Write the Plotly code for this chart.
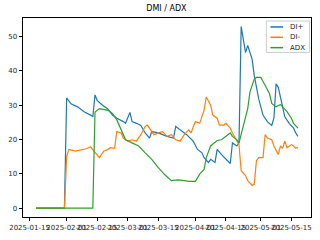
import plotly.graph_objects as go

title = "DMI / ADX"

di_plus_dates = ["2025-01-18", "2025-01-31", "2025-02-01", "2025-02-03", "2025-02-06", "2025-02-09",
                 "2025-02-12", "2025-02-13", "2025-02-14", "2025-02-15", "2025-02-17", "2025-02-20",
                 "2025-02-22", "2025-02-24", "2025-02-27", "2025-02-28", "2025-03-02", "2025-03-03",
                 "2025-03-05", "2025-03-07", "2025-03-09", "2025-03-11", "2025-03-12", "2025-03-15",
                 "2025-03-17", "2025-03-19", "2025-03-22", "2025-03-23", "2025-03-25", "2025-03-28",
                 "2025-03-31", "2025-04-02", "2025-04-04", "2025-04-05", "2025-04-07", "2025-04-08",
                 "2025-04-10", "2025-04-11", "2025-04-13", "2025-04-15", "2025-04-17", "2025-04-18",
                 "2025-04-20", "2025-04-21", "2025-04-22", "2025-04-24", "2025-04-25", "2025-04-27",
                 "2025-04-28", "2025-04-30", "2025-05-02", "2025-05-04", "2025-05-06", "2025-05-07",
                 "2025-05-08", "2025-05-09", "2025-05-11", "2025-05-12", "2025-05-14", "2025-05-16",
                 "2025-05-17", "2025-05-18"]
di_plus = [0, 0, 32.1, 30.4, 29.5, 28.1,
           27.1, 26.6, 33.0, 31.4, 30.2, 28.8,
           27.1, 26.2, 25.2, 24.7, 27.9, 25.2,
           24.7, 24.1, 21.9, 20.4, 22.3, 21.9,
           21.4, 20.9, 20.4, 23.8, 22.8, 21.4,
           19.5, 17.1, 16.1, 14.7, 13.3, 14.2,
           13.3, 17.1, 15.6, 14.2, 13.0, 19.0,
           18.1, 19.0, 52.9, 45.3, 47.4, 43.4,
           38.6, 31.9, 27.1, 25.2, 24.1, 26.2,
           36.2, 35.2, 30.0, 26.6, 24.7, 23.3,
           21.9, 20.9]

di_minus_dates = ["2025-01-18", "2025-01-31", "2025-02-01", "2025-02-02", "2025-02-05", "2025-02-07",
                  "2025-02-10", "2025-02-12", "2025-02-13", "2025-02-15", "2025-02-16", "2025-02-18",
                  "2025-02-20", "2025-02-21", "2025-02-23", "2025-02-24", "2025-02-26", "2025-02-27",
                  "2025-03-01", "2025-03-03", "2025-03-05", "2025-03-07", "2025-03-09", "2025-03-10",
                  "2025-03-11", "2025-03-13", "2025-03-15", "2025-03-17", "2025-03-19", "2025-03-21",
                  "2025-03-23", "2025-03-25", "2025-03-27", "2025-03-29", "2025-03-30", "2025-04-01",
                  "2025-04-03", "2025-04-05", "2025-04-06", "2025-04-08", "2025-04-09", "2025-04-11",
                  "2025-04-12", "2025-04-14", "2025-04-15", "2025-04-17", "2025-04-18", "2025-04-20",
                  "2025-04-21", "2025-04-22", "2025-04-24", "2025-04-25", "2025-04-27", "2025-04-28",
                  "2025-04-29", "2025-04-30", "2025-05-02", "2025-05-03", "2025-05-04", "2025-05-06",
                  "2025-05-07", "2025-05-09", "2025-05-10", "2025-05-11", "2025-05-12", "2025-05-13",
                  "2025-05-15", "2025-05-16", "2025-05-17", "2025-05-18"]
di_minus = [0, 0, 15.0, 17.1, 16.6, 16.8,
            17.3, 17.8, 17.0, 15.2, 14.7, 16.6,
            17.1, 17.6, 17.4, 22.3, 21.9, 20.4,
            19.5, 19.9, 19.5, 21.4, 23.8, 24.2,
            23.3, 21.4, 21.9, 22.3, 20.9, 21.4,
            19.9, 19.5, 21.5, 22.8, 21.9, 25.2,
            24.7, 28.5, 32.4, 30.0, 27.1, 26.2,
            24.2, 24.2, 24.7, 23.3, 21.9, 19.9,
            18.5, 10.9, 9.5, 8.0, 6.6, 7.0,
            13.8, 14.7, 14.7, 21.4, 20.4, 19.9,
            18.1, 15.6, 18.1, 17.4, 19.5, 17.6,
            18.5, 18.1, 17.4, 17.7]

adx_dates = ["2025-01-18", "2025-02-13", "2025-02-14", "2025-02-16", "2025-02-20", "2025-02-22",
             "2025-02-24", "2025-02-26", "2025-02-28", "2025-03-03", "2025-03-06", "2025-03-09",
             "2025-03-12", "2025-03-15", "2025-03-18", "2025-03-21", "2025-03-24", "2025-03-27",
             "2025-03-29", "2025-04-01", "2025-04-03", "2025-04-05", "2025-04-06", "2025-04-08",
             "2025-04-11", "2025-04-13", "2025-04-15", "2025-04-17", "2025-04-18", "2025-04-20",
             "2025-04-21", "2025-04-23", "2025-04-25", "2025-04-26", "2025-04-28", "2025-04-29",
             "2025-05-01", "2025-05-03", "2025-05-05", "2025-05-06", "2025-05-08", "2025-05-10",
             "2025-05-11", "2025-05-13", "2025-05-15", "2025-05-16", "2025-05-18"]
adx = [0, 0, 28.0, 29.0, 28.5, 27.6,
       25.7, 22.8, 19.9, 19.0, 18.1, 16.1,
       14.2, 11.8, 9.7, 8.0, 8.2, 8.0,
       7.8, 7.8, 9.9, 11.3, 14.7, 18.1,
       19.7, 19.9, 20.9, 21.9, 20.9, 19.9,
       19.0, 24.2, 29.0, 33.8, 37.6, 38.1,
       38.1, 35.7, 33.3, 30.5, 29.5, 30.2,
       29.5, 28.1, 26.2, 24.7, 23.3]

series_names = ["DI+", "DI-", "ADX"]
series_colors = ["#1f77b4", "#ff7f0e", "#2ca02c"]

tick_vals = ["2025-01-15", "2025-02-01", "2025-02-15", "2025-03-01", "2025-03-15",
             "2025-04-01", "2025-04-15", "2025-05-01", "2025-05-15"]
y_ticks = [0, 10, 20, 30, 40, 50]

fig = go.Figure()
for xs, ys, name, color in zip([di_plus_dates, di_minus_dates, adx_dates],
                               [di_plus, di_minus, adx], series_names, series_colors):
    fig.add_trace(go.Scatter(x=xs, y=ys, mode="lines", name=name,
                             line=dict(color=color, width=1.2), showlegend=False))

font = "DejaVu Sans"

# matplotlib-style legend box drawn in paper coordinates
shapes = [dict(type="rect", xref="paper", yref="paper", x0=0.845, x1=0.995, y0=0.827, y1=0.985,
               line=dict(color="#cccccc", width=1), fillcolor="rgba(255,255,255,0.85)", layer="above")]
annotations = []
row_y = [0.955, 0.903, 0.851]
for name, color, yy in zip(series_names, series_colors, row_y):
    shapes.append(dict(type="line", xref="paper", yref="paper", x0=0.859, x1=0.903, y0=yy, y1=yy,
                       line=dict(color=color, width=1.5), layer="above"))
    annotations.append(dict(text=name, xref="paper", yref="paper", x=0.92, y=yy,
                            xanchor="left", yanchor="middle", showarrow=False,
                            font=dict(family=font, size=7, color="#262626")))

fig.update_layout(
    width=320, height=240,
    margin=dict(l=22, r=8, t=18, b=20),
    paper_bgcolor="white", plot_bgcolor="white",
    font=dict(family=font, size=7, color="#262626"),
    title=dict(text=title, x=0.52, xanchor="center", y=0.965, yanchor="middle",
               font=dict(family=font, size=8, color="#000")),
    showlegend=False,
    shapes=shapes,
    annotations=annotations,
)
fig.update_xaxes(
    type="date", range=["2025-01-12", "2025-05-24"],
    tickvals=tick_vals, ticktext=tick_vals,
    showgrid=False, zeroline=False,
    showline=True, linecolor="#000", linewidth=0.8, mirror=True,
    ticks="outside", ticklen=3.5, tickwidth=0.8, tickcolor="#000",
    tickangle=0,
)
fig.update_yaxes(
    range=[-2.6, 55.4], tickvals=y_ticks,
    showgrid=False, zeroline=False,
    showline=True, linecolor="#000", linewidth=0.8, mirror=True,
    ticks="outside", ticklen=3.5, tickwidth=0.8, tickcolor="#000",
)

fig.write_html("out.html")
